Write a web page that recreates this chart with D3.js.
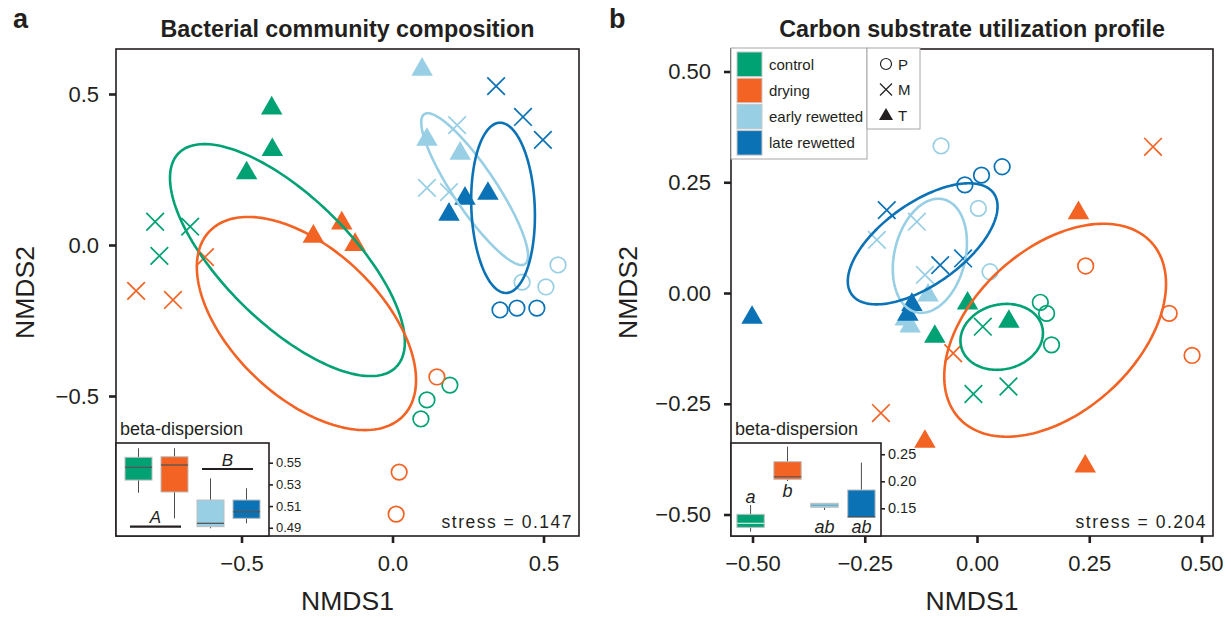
<!DOCTYPE html>
<html><head><meta charset="utf-8">
<script src="https://cdn.jsdelivr.net/npm/d3@7"></script>
<style>
body{margin:0;background:#fff;}
text{font-family:"Liberation Sans",Arial,Helvetica,sans-serif;fill:#231f20;}
</style></head><body>
<svg id="chart" width="1231" height="617"></svg>
<script>
// ---------- shared ----------
const groups = ["control", "drying", "early rewetted", "late rewetted"];
const groupColors = ["#00A274", "#F26324", "#98CFE4", "#0B72B5"];
const sites = ["P", "M", "T"];

// ---------- panel a : bacterial community composition ----------
const aGroup = ["control","control","control","control","control","control","control","control","control",
  "drying","drying","drying","drying","drying","drying","drying","drying","drying",
  "early rewetted","early rewetted","early rewetted","early rewetted","early rewetted","early rewetted","early rewetted","early rewetted","early rewetted",
  "late rewetted","late rewetted","late rewetted","late rewetted","late rewetted","late rewetted","late rewetted","late rewetted","late rewetted"];
const aSite = ["P","P","P","M","M","M","T","T","T","P","P","P","M","M","M","T","T","T",
  "P","P","P","M","M","M","T","T","T","P","P","P","M","M","M","T","T","T"];
const aNMDS1 = [0.190, 0.114, 0.094, -0.786, -0.670, -0.772, -0.400, -0.398, -0.483,
  0.147, 0.022, 0.012, -0.621, -0.849, -0.727, -0.168, -0.262, -0.124,
  0.548, 0.508, 0.429, 0.214, 0.114, 0.187, 0.098, 0.114, 0.224,
  0.356, 0.412, 0.478, 0.343, 0.432, 0.498, 0.316, 0.240, 0.187];
const aNMDS2 = [-0.464, -0.513, -0.576, 0.077, 0.061, -0.036, 0.458, 0.320, 0.243,
  -0.437, -0.752, -0.891, -0.040, -0.152, -0.182, 0.077, 0.033, 0.006,
  -0.066, -0.139, -0.123, 0.397, 0.189, 0.175, 0.586, 0.354, 0.308,
  -0.215, -0.209, -0.209, 0.526, 0.424, 0.348, 0.175, 0.159, 0.106];
const aEllCx = [-0.348, -0.285, 0.272, 0.366];
const aEllCy = [-0.050, -0.260, 0.185, 0.123];
const aEllA = [0.505, 0.443, 0.299, 0.282];
const aEllB = [0.209, 0.245, 0.071, 0.105];
const aEllAngle = [-44.5, -43.5, -56.1, -87.7];
const aXTicks = [-0.5, 0, 0.5];
const aYTicks = [-0.5, 0, 0.5];
const aStress = "stress = 0.147";
// beta-dispersion inset a
const aBetaMin = [0.5223, 0.4987, 0.4895, 0.4941];
const aBetaQ1  = [0.5340, 0.5230, 0.4910, 0.4987];
const aBetaMed = [0.5458, 0.5479, 0.4941, 0.5048];
const aBetaQ3  = [0.5550, 0.5555, 0.5156, 0.5156];
const aBetaMax = [0.5633, 0.5633, 0.5356, 0.5264];
const aBetaTicks = [0.49, 0.51, 0.53, 0.55];
const aSigText = ["A", "B"];
const aSigFrom = ["control", "early rewetted"];
const aSigTo = ["drying", "late rewetted"];
const aSigLevel = [0.4910, 0.5442];

// ---------- panel b : carbon substrate utilization profile ----------
const bGroup = aGroup.slice();
const bSite = aSite.slice();
const bNMDS1 = [0.141, 0.155, 0.166, 0.013, -0.008, 0.070, -0.021, 0.071, -0.094,
  0.242, 0.428, 0.479, 0.392, -0.214, -0.053, 0.226, -0.116, 0.241,
  -0.080, 0.003, 0.029, -0.134, -0.223, -0.116, -0.109, -0.160, -0.149,
  -0.027, 0.010, 0.056, -0.201, -0.082, -0.031, -0.501, -0.145, -0.154];
const bNMDS2 = [-0.021, -0.046, -0.117, -0.076, -0.228, -0.211, -0.020, -0.061, -0.095,
  0.061, -0.046, -0.141, 0.330, -0.271, -0.136, 0.184, -0.332, -0.388,
  0.332, 0.191, 0.048, 0.161, 0.120, 0.041, -0.002, -0.056, -0.072,
  0.244, 0.266, 0.285, 0.187, 0.063, 0.078, -0.052, -0.023, -0.045];
const bEllCx = [0.055, 0.174, -0.105, -0.121];
const bEllCy = [-0.099, -0.084, 0.084, 0.111];
const bEllA = [0.093, 0.292, 0.131, 0.195];
const bEllB = [0.073, 0.183, 0.079, 0.092];
const bEllAngle = [14.5, 43.2, 76.7, 36.0];
const bXTicks = [-0.5, -0.25, 0, 0.25, 0.5];
const bYTicks = [-0.5, -0.25, 0, 0.25, 0.5];
const bStress = "stress = 0.204";
const bBetaMin = [0.1067, 0.2005, 0.1469, 0.1333];
const bBetaQ1  = [0.1148, 0.2037, 0.1519, 0.1333];
const bBetaMed = [0.1222, 0.2085, 0.1556, 0.1345];
const bBetaQ3  = [0.1389, 0.2362, 0.1593, 0.1839];
const bBetaMax = [0.1561, 0.2640, 0.1593, 0.2344];
const bBetaTicks = [0.15, 0.20, 0.25];
const bLetters = ["a", "b", "ab", "ab"];
const bLetterLevel = [0.1598, 0.1709, 0.1043, 0.1043];
const bMedianColors = ["#b9e7d5", "#6b5a55", "#6fa9c0", "#3f5566"];

// ---------- drawing ----------
const svg = d3.select("#chart");
const color = d3.scaleOrdinal().domain(groups).range(groupColors);
const FONT = "Liberation Sans, Arial, Helvetica, sans-serif";
const INK = "#231f20";

function crossPath(h) { return `M${-h},${-h}L${h},${h}M${-h},${h}L${h},${-h}`; }

function drawPanel(o) {
  const g = svg.append("g");
  const x = d3.scaleLinear().domain(o.xDomain).range([o.left, o.right]);
  const y = d3.scaleLinear().domain(o.yDomain).range([o.bottom, o.top]);

  // axes
  const gx = g.append("g").attr("transform", `translate(0,${o.bottom})`)
    .call(d3.axisBottom(x).tickValues(o.xTicks).tickFormat(d3.format(o.fmt)).tickSize(7).tickPadding(12));
  const gy = g.append("g").attr("transform", `translate(${o.left},0)`)
    .call(d3.axisLeft(y).tickValues(o.yTicks).tickFormat(d3.format(o.fmt)).tickSize(7).tickPadding(o.yPad));
  [gx, gy].forEach(a => {
    a.select(".domain").remove();
    a.attr("font-size", 22).attr("font-family", FONT);
    a.selectAll(".tick line").attr("stroke", INK).attr("stroke-width", 2.6);
    a.selectAll(".tick text").attr("fill", INK);
  });

  // points
  const pg = g.append("g");
  o.nmds1.forEach((v, i) => {
    const px = x(v), py = y(o.nmds2[i]), c = color(o.group[i]), s = o.site[i];
    if (s === "P") {
      pg.append("circle").attr("cx", px).attr("cy", py).attr("r", 7.8)
        .attr("fill", "none").attr("stroke", c).attr("stroke-width", 1.7);
    } else if (s === "M") {
      pg.append("path").attr("d", crossPath(8.8)).attr("transform", `translate(${px},${py})`)
        .attr("fill", "none").attr("stroke", c).attr("stroke-width", 1.7);
    } else {
      pg.append("path").attr("d", d3.symbol(d3.symbolTriangle, 200)())
        .attr("transform", `translate(${px},${py + 1.5})`).attr("fill", c);
    }
  });

  // ellipses
  const line = d3.line().x(d => x(d[0])).y(d => y(d[1]));
  groups.forEach((grp, i) => {
    const phi = o.ellAngle[i] * Math.PI / 180;
    const pts = d3.range(0, 361, 2).map(t => {
      const tt = t * Math.PI / 180;
      const ca = o.ellA[i] * Math.cos(tt), sb = o.ellB[i] * Math.sin(tt);
      return [o.ellCx[i] + ca * Math.cos(phi) - sb * Math.sin(phi),
              o.ellCy[i] + ca * Math.sin(phi) + sb * Math.cos(phi)];
    });
    g.append("path").attr("d", line(pts)).attr("fill", "none")
      .attr("stroke", color(grp)).attr("stroke-width", 2.6);
  });

  // frame
  g.append("rect").attr("x", o.left).attr("y", o.top).attr("width", o.right - o.left)
    .attr("height", o.bottom - o.top).attr("fill", "none").attr("stroke", INK).attr("stroke-width", 1.6);

  // inset
  const ins = o.inset;
  const ix = d3.scaleBand().domain(groups).range([o.left, ins.right]).paddingInner(ins.pi).paddingOuter(ins.po);
  const iy = d3.scaleLinear().domain(ins.yDomain).range([o.bottom, ins.top]);
  g.append("text").attr("x", o.left + 4).attr("y", ins.top - 8).attr("font-size", 18).text("beta-dispersion");
  g.append("rect").attr("x", o.left).attr("y", ins.top).attr("width", ins.right - o.left)
    .attr("height", o.bottom - ins.top).attr("fill", "#fff").attr("stroke", INK).attr("stroke-width", 1.6);
  groups.forEach((grp, i) => {
    const cx = ix(grp) + ix.bandwidth() / 2;
    g.append("line").attr("x1", cx).attr("x2", cx).attr("y1", iy(ins.min[i])).attr("y2", iy(ins.max[i]))
      .attr("stroke", "#4d4d4d").attr("stroke-width", 1);
    g.append("rect").attr("x", ix(grp)).attr("width", ix.bandwidth())
      .attr("y", iy(ins.q3[i])).attr("height", Math.max(1, iy(ins.q1[i]) - iy(ins.q3[i])))
      .attr("fill", color(grp)).attr("stroke", "#bdbdbd").attr("stroke-width", 1);
    g.append("line").attr("x1", ix(grp)).attr("x2", ix(grp) + ix.bandwidth())
      .attr("y1", iy(ins.med[i])).attr("y2", iy(ins.med[i]))
      .attr("stroke", ins.medColors[i]).attr("stroke-width", 1.3);
  });
  const ia = g.append("g").attr("transform", `translate(${ins.right},0)`)
    .call(d3.axisRight(iy).tickValues(ins.ticks).tickFormat(d3.format(".2f")).tickSize(4).tickPadding(3));
  ia.select(".domain").remove();
  ia.attr("font-size", ins.fontSize).attr("font-family", FONT);
  ia.selectAll(".tick line").attr("stroke", INK).attr("stroke-width", 1.6);
  ia.selectAll(".tick text").attr("fill", INK);
  if (ins.draw) ins.draw(g, ix, iy);

  // stress
  g.append("text").attr("x", o.right - 6).attr("y", o.bottom - 8).attr("text-anchor", "end")
    .attr("font-size", 17.5).attr("letter-spacing", 1.5).text(o.stress);

  // titles & labels
  const cx = (o.left + o.right) / 2;
  g.append("text").attr("x", cx).attr("y", 37).attr("text-anchor", "middle")
    .attr("font-size", 23.3).attr("font-weight", "bold").text(o.title);
  g.append("text").attr("x", o.letterX).attr("y", 28).attr("font-size", 27).attr("font-weight", "bold").text(o.letter);
  g.append("text").attr("x", cx).attr("y", 610).attr("text-anchor", "middle").attr("font-size", 26.5).text("NMDS1");
  g.append("text").attr("transform", `translate(${o.ylabX},${(o.top + o.bottom) / 2}) rotate(-90)`)
    .attr("text-anchor", "middle").attr("font-size", 26.5).text("NMDS2");
  return {g, x, y};
}

// panel a
drawPanel({
  left: 116, right: 579, top: 49, bottom: 536,
  xDomain: [-0.9156, 0.6175], yDomain: [-0.9636, 0.649],
  xTicks: aXTicks, yTicks: aYTicks, fmt: ".1f", yPad: 10,
  nmds1: aNMDS1, nmds2: aNMDS2, group: aGroup, site: aSite,
  ellCx: aEllCx, ellCy: aEllCy, ellA: aEllA, ellB: aEllB, ellAngle: aEllAngle,
  stress: aStress, title: "Bacterial community composition", letter: "a", letterX: 13, ylabX: 34,
  inset: {
    right: 269, top: 443, pi: 0.25, po: 0.25, yDomain: [0.4824, 0.5682],
    min: aBetaMin, q1: aBetaQ1, med: aBetaMed, q3: aBetaQ3, max: aBetaMax,
    ticks: aBetaTicks, fontSize: 13, medColors: ["#555", "#555", "#555", "#555"],
    draw: (g, ix, iy) => {
      aSigText.forEach((t, k) => {
        const x1 = ix(aSigFrom[k]) + 5, x2 = ix(aSigTo[k]) + ix.bandwidth() - 7;
        const yy = iy(aSigLevel[k]);
        g.append("line").attr("x1", x1).attr("x2", x2).attr("y1", yy).attr("y2", yy)
          .attr("stroke", INK).attr("stroke-width", 2.2);
        g.append("text").attr("x", (x1 + x2) / 2).attr("y", yy - 3.5).attr("text-anchor", "middle")
          .attr("font-size", 17).attr("font-style", "italic").text(t);
      });
    }
  }
});

// panel b
drawPanel({
  left: 731, right: 1213, top: 49, bottom: 536,
  xDomain: [-0.5479, 0.5256], yDomain: [-0.5485, 0.5508],
  xTicks: bXTicks, yTicks: bYTicks, fmt: ".2f", yPad: 13,
  nmds1: bNMDS1, nmds2: bNMDS2, group: bGroup, site: bSite,
  ellCx: bEllCx, ellCy: bEllCy, ellA: bEllA, ellB: bEllB, ellAngle: bEllAngle,
  stress: bStress, title: "Carbon substrate utilization profile", letter: "b", letterX: 609, ylabX: 637,
  inset: {
    right: 881, top: 443, pi: 0.26, po: 0.16, yDomain: [0.0988, 0.2708],
    min: bBetaMin, q1: bBetaQ1, med: bBetaMed, q3: bBetaQ3, max: bBetaMax,
    ticks: bBetaTicks, fontSize: 14.5, medColors: bMedianColors,
    draw: (g, ix, iy) => {
      groups.forEach((grp, k) => {
        g.append("text").attr("x", ix(grp) + ix.bandwidth() / 2).attr("y", iy(bLetterLevel[k]))
          .attr("text-anchor", "middle").attr("font-size", 18).attr("font-style", "italic").text(bLetters[k]);
      });
    }
  }
});

// legend (panel b)
const leg = svg.append("g");
leg.append("rect").attr("x", 731).attr("y", 48).attr("width", 136).attr("height", 111)
  .attr("fill", "#fff").attr("stroke", "#a6a6a6").attr("stroke-width", 1);
groups.forEach((grp, i) => {
  const yy = 52 + i * 26.2;
  leg.append("rect").attr("x", 737).attr("y", yy).attr("width", 25).attr("height", 24.5)
    .attr("fill", color(grp)).attr("stroke", "#c8c8c8").attr("stroke-width", 1);
  leg.append("text").attr("x", 769).attr("y", yy + 17.5).attr("font-size", 15).text(grp);
});
leg.append("rect").attr("x", 867).attr("y", 48).attr("width", 53).attr("height", 81)
  .attr("fill", "#fff").attr("stroke", "#a6a6a6").attr("stroke-width", 1);
sites.forEach((s, i) => {
  const yy = 64 + i * 25.5, xx = 886;
  if (s === "P") leg.append("circle").attr("cx", xx).attr("cy", yy).attr("r", 5.5).attr("fill", "none").attr("stroke", INK).attr("stroke-width", 1.2);
  else if (s === "M") leg.append("path").attr("d", crossPath(6)).attr("transform", `translate(${xx},${yy})`).attr("stroke", INK).attr("stroke-width", 1.2);
  else leg.append("path").attr("d", d3.symbol(d3.symbolTriangle, 85)()).attr("transform", `translate(${xx},${yy + 1})`).attr("fill", INK);
  leg.append("text").attr("x", 898).attr("y", yy + 5.5).attr("font-size", 15).text(s);
});
</script>
</body></html>
